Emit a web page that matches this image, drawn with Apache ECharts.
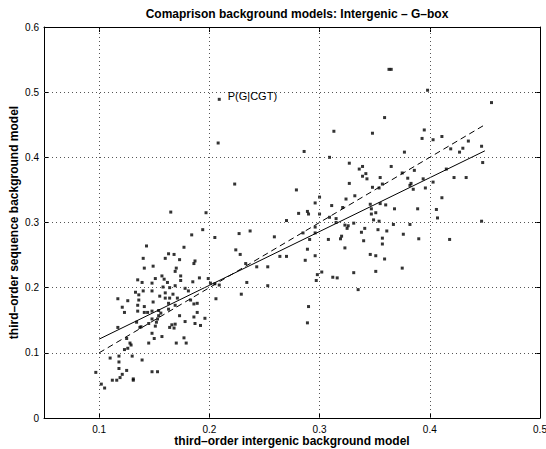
<!DOCTYPE html>
<html><head><meta charset="utf-8">
<script src="https://cdn.jsdelivr.net/npm/echarts@6/dist/echarts.min.js"></script>
<style>html,body{margin:0;padding:0;background:#fff}#c{width:546px;height:449px}</style>
</head><body><div id="c"></div>
<script>
const titleText = 'Comaprison background models: Intergenic \u2013 G\u2013box';
const xLabel = 'third\u2013order intergenic background model';
const yLabel = 'third\u2013order sequence background model';
const xTicks = [0.1, 0.2, 0.3, 0.4, 0.5];
const yTicks = [0, 0.1, 0.2, 0.3, 0.4, 0.5, 0.6];

// scatter points [x, y]
const points = [
 [0.194,0.289],[0.184,0.281],[0.205,0.277],[0.143,0.264],[0.177,0.262],[0.163,0.252],[0.168,0.251],[0.140,0.245],[0.160,0.245],[0.173,0.243],
 [0.187,0.241],[0.186,0.237],[0.149,0.233],[0.170,0.230],[0.141,0.230],[0.169,0.225],[0.157,0.218],[0.174,0.218],[0.191,0.215],[0.135,0.212],
 [0.151,0.214],[0.174,0.211],[0.159,0.213],[0.162,0.208],[0.139,0.208],[0.148,0.207],[0.185,0.209],[0.164,0.200],[0.169,0.203],[0.158,0.201],
 [0.178,0.199],[0.201,0.207],[0.205,0.206],[0.133,0.193],[0.136,0.189],[0.140,0.195],[0.148,0.195],[0.160,0.192],[0.167,0.190],[0.181,0.195],
 [0.155,0.187],[0.160,0.184],[0.164,0.184],[0.171,0.184],[0.117,0.183],[0.136,0.181],[0.126,0.180],[0.183,0.181],[0.186,0.175],[0.189,0.176],
 [0.206,0.183],[0.121,0.170],[0.149,0.178],[0.135,0.173],[0.141,0.171],[0.163,0.176],[0.169,0.173],[0.148,0.164],[0.154,0.165],[0.163,0.167],
 [0.123,0.162],[0.135,0.164],[0.141,0.162],[0.144,0.162],[0.156,0.161],[0.189,0.162],[0.154,0.157],[0.173,0.157],[0.186,0.155],[0.148,0.152],
 [0.196,0.153],[0.153,0.152],[0.134,0.147],[0.145,0.145],[0.152,0.147],[0.138,0.140],[0.151,0.141],[0.169,0.144],[0.178,0.148],[0.187,0.145],
 [0.164,0.139],[0.168,0.138],[0.166,0.143],[0.117,0.139],[0.148,0.130],[0.137,0.139],[0.157,0.125],[0.150,0.122],[0.177,0.123],[0.125,0.122],
 [0.170,0.115],[0.179,0.115],[0.145,0.115],[0.128,0.115],[0.129,0.112],[0.126,0.107],[0.123,0.105],[0.130,0.095],[0.110,0.092],[0.118,0.095],
 [0.118,0.086],[0.139,0.089],[0.118,0.076],[0.125,0.073],[0.097,0.070],[0.121,0.067],[0.148,0.071],[0.153,0.071],[0.119,0.062],[0.112,0.058],
 [0.116,0.058],[0.131,0.060],[0.131,0.058],[0.102,0.052],[0.105,0.046],[0.165,0.316],[0.197,0.315],[0.208,0.422],[0.209,0.489],[0.286,0.409],
 [0.309,0.400],[0.223,0.359],[0.279,0.350],[0.300,0.339],[0.296,0.330],[0.281,0.314],[0.289,0.317],[0.290,0.313],[0.300,0.313],[0.309,0.308],
 [0.270,0.303],[0.237,0.287],[0.227,0.283],[0.259,0.278],[0.285,0.284],[0.296,0.293],[0.296,0.284],[0.291,0.274],[0.308,0.274],[0.224,0.258],
 [0.228,0.251],[0.289,0.259],[0.296,0.249],[0.264,0.248],[0.270,0.248],[0.287,0.242],[0.233,0.237],[0.243,0.232],[0.253,0.232],[0.302,0.224],
 [0.298,0.220],[0.199,0.214],[0.234,0.208],[0.297,0.211],[0.209,0.204],[0.253,0.203],[0.229,0.190],[0.290,0.171],[0.289,0.146],[0.192,0.142],
 [0.407,0.307],[0.349,0.304],[0.354,0.302],[0.315,0.306],[0.315,0.300],[0.331,0.299],[0.323,0.296],[0.326,0.295],[0.325,0.291],[0.367,0.297],
 [0.382,0.297],[0.341,0.291],[0.353,0.289],[0.361,0.287],[0.338,0.285],[0.376,0.282],[0.320,0.279],[0.319,0.275],[0.357,0.276],[0.390,0.275],
 [0.418,0.274],[0.340,0.272],[0.357,0.267],[0.323,0.261],[0.346,0.251],[0.351,0.249],[0.359,0.244],[0.375,0.230],[0.331,0.223],[0.351,0.225],
 [0.312,0.216],[0.316,0.215],[0.335,0.197],[0.363,0.535],[0.365,0.535],[0.398,0.503],[0.359,0.461],[0.313,0.440],[0.348,0.437],[0.395,0.442],
 [0.393,0.429],[0.403,0.427],[0.411,0.432],[0.435,0.425],[0.377,0.408],[0.419,0.413],[0.430,0.414],[0.427,0.408],[0.327,0.391],[0.339,0.386],
 [0.336,0.382],[0.365,0.386],[0.415,0.382],[0.342,0.375],[0.339,0.371],[0.375,0.376],[0.386,0.380],[0.343,0.367],[0.355,0.369],[0.380,0.368],
 [0.394,0.367],[0.422,0.369],[0.433,0.369],[0.403,0.362],[0.327,0.360],[0.357,0.359],[0.348,0.354],[0.354,0.353],[0.383,0.360],[0.382,0.357],
 [0.396,0.353],[0.385,0.351],[0.411,0.338],[0.332,0.341],[0.324,0.336],[0.311,0.326],[0.321,0.323],[0.346,0.328],[0.355,0.329],[0.360,0.327],
 [0.368,0.321],[0.389,0.321],[0.406,0.320],[0.347,0.321],[0.347,0.313],[0.351,0.315],[0.456,0.484],[0.447,0.417],[0.448,0.392],[0.447,0.302]
];

// regression (solid) and identity (dashed) lines
const fitX = [0.1, 0.45];
const fitY = [0.121, 0.410];
const diagY = [0.1, 0.45];

// annotation
const annX = 0.209, annY = 0.489, annText = 'P(G|CGT)';

const FONT = '"Liberation Sans", Arial, Helvetica, sans-serif';
const chart = echarts.init(document.getElementById('c'), null, {renderer: 'svg'});

const gridLine = {color: '#555', width: 1, type: [1, 3]};
const xMin = 0.05, xMax = 0.5, yMin = 0, yMax = 0.6;

const option = {
  animation: false,
  backgroundColor: '#fff',
  title: {
    text: titleText, left: 292, top: 3, textAlign: 'center',
    textStyle: {fontFamily: FONT, fontSize: 12, fontWeight: 'bold', color: '#000'}
  },
  grid: {left: 44, right: 6, top: 27, bottom: 31, containLabel: false, outerBoundsMode: 'none'},
  xAxis: [{
    type: 'value', min: xMin, max: xMax, position: 'bottom',
    name: xLabel, nameLocation: 'middle', nameGap: 16, nameMoveOverlap: false,
    nameTextStyle: {fontFamily: FONT, fontSize: 12, fontWeight: 'bold', color: '#000', lineHeight: 13},
    axisLine: {show: true, onZero: false, lineStyle: {color: '#000', width: 1}},
    axisTick: {show: true, inside: true, length: 5, customValues: xTicks, lineStyle: {color: '#000'}},
    axisLabel: {show: true, customValues: xTicks, margin: 6, fontFamily: FONT, fontSize: 10, color: '#000',
      formatter: v => String(+v.toFixed(2))},
    splitLine: {show: false}
  }, {
    type: 'value', min: xMin, max: xMax, position: 'top',
    axisLine: {show: true, onZero: false, lineStyle: {color: '#000', width: 1}},
    axisTick: {show: true, inside: true, length: 5, customValues: xTicks, lineStyle: {color: '#000'}},
    axisLabel: {show: false}, splitLine: {show: false}
  }],
  yAxis: [{
    type: 'value', min: yMin, max: yMax, interval: 0.1, position: 'left',
    name: yLabel, nameLocation: 'middle', nameGap: 24, nameRotate: 90, nameMoveOverlap: false,
    nameTextStyle: {fontFamily: FONT, fontSize: 12, fontWeight: 'bold', color: '#000'},
    axisLine: {show: true, onZero: false, lineStyle: {color: '#000', width: 1}},
    axisTick: {show: true, inside: true, length: 5, lineStyle: {color: '#000'}},
    axisLabel: {show: true, margin: 5, fontFamily: FONT, fontSize: 10, color: '#000',
      formatter: v => String(+v.toFixed(2))},
    splitLine: {show: false}
  }, {
    type: 'value', min: yMin, max: yMax, interval: 0.1, position: 'right',
    axisLine: {show: true, onZero: false, lineStyle: {color: '#000', width: 1}},
    axisTick: {show: true, inside: true, length: 5, lineStyle: {color: '#000'}},
    axisLabel: {show: false}, splitLine: {show: false}
  }],
  series: [{
    // dotted grid drawn at tick positions
    type: 'line', xAxisIndex: 0, yAxisIndex: 0, data: [], silent: true, z: 1,
    markLine: {
      silent: true, symbol: ['none', 'none'], animation: false,
      label: {show: false},
      lineStyle: gridLine,
      emphasis: {disabled: true},
      data: xTicks.filter(v => v > xMin && v < xMax).map(v => ({xAxis: v}))
        .concat(yTicks.filter(v => v > yMin && v < yMax).map(v => ({yAxis: v})))
    }
  }, {
    type: 'scatter', xAxisIndex: 0, yAxisIndex: 0, z: 3,
    data: points, symbol: 'rect', symbolSize: 3,
    itemStyle: {color: '#000'},
    markPoint: {
      symbol: 'circle', symbolSize: 1, itemStyle: {color: 'rgba(0,0,0,0)'},
      label: {show: true, position: 'right', distance: 8, offset: [0, -3], formatter: annText,
        fontFamily: FONT, fontSize: 11, color: '#000'},
      data: [{coord: [annX, annY]}]
    }
  }, {
    type: 'line', xAxisIndex: 0, yAxisIndex: 0, symbol: 'none', z: 2,
    data: fitX.map((x, i) => [x, fitY[i]]),
    lineStyle: {color: '#000', width: 1, type: 'solid'}
  }, {
    type: 'line', xAxisIndex: 0, yAxisIndex: 0, symbol: 'none', z: 2,
    data: fitX.map((x, i) => [x, diagY[i]]),
    lineStyle: {color: '#000', width: 1, type: [6, 4]}
  }]
};
chart.setOption(option);
</script>
</body></html>
